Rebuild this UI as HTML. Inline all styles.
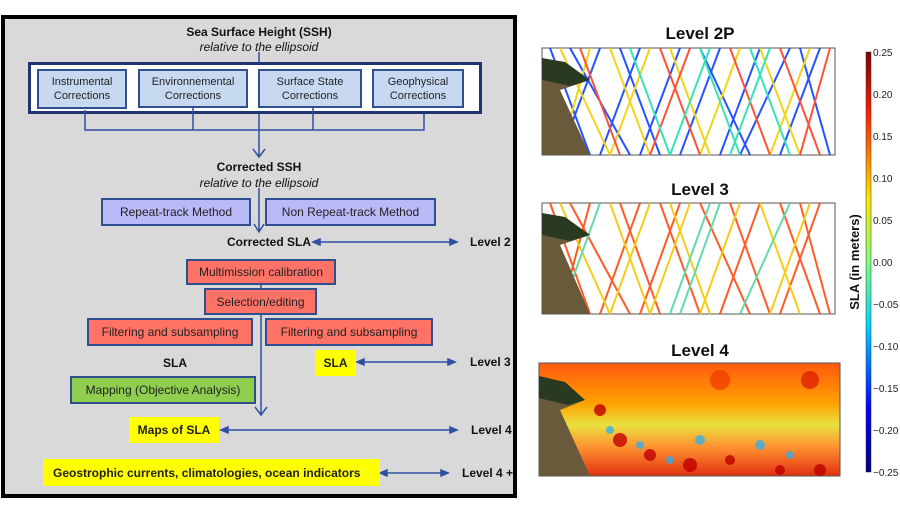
<!DOCTYPE html>
<html><head><meta charset="utf-8"><style>
body{margin:0;width:900px;height:524px;background:#fff;font-family:"Liberation Sans",sans-serif;position:relative;overflow:hidden}
.a{position:absolute;box-sizing:border-box}
.t{position:absolute;font-size:11px;color:#111;white-space:nowrap}
.b{font-weight:bold}
.bx{position:absolute;box-sizing:border-box;display:flex;align-items:center;justify-content:center;text-align:center;font-size:11px;color:#222;line-height:14px}
.blue{background:#c6d9f1;border:2px solid #2f4f8f}
.pur{background:#b9b9f7;border:2px solid #2f4f8f}
.red{background:#ff7366;border:2px solid #2f4f8f}
.grn{background:#8fce4f;border:2px solid #2f4f8f}
.yel{background:#ffff00;font-weight:bold}
</style></head><body>
<div class="a" style="left:1px;top:15px;width:516px;height:483px;background:#d9d9d9;border:4px solid #000"></div>
<div class="t b" style="left:0;width:518px;text-align:center;top:25px;font-size:12px">Sea Surface Height (SSH)</div>
<div class="t" style="left:0;width:518px;text-align:center;top:40px;font-style:italic;font-size:12px">relative to the ellipsoid</div>
<div class="a" style="left:28px;top:62px;width:454px;height:52px;background:#fff;border:3px solid #1f3470"></div>
<div class="bx blue" style="left:37px;top:69px;width:90px;height:40px">Instrumental<br>Corrections</div>
<div class="bx blue" style="left:138px;top:69px;width:110px;height:39px">Environnemental<br>Corrections</div>
<div class="bx blue" style="left:258px;top:69px;width:104px;height:39px">Surface State<br>Corrections</div>
<div class="bx blue" style="left:372px;top:69px;width:92px;height:39px">Geophysical<br>Corrections</div>
<svg class="a" style="left:0;top:0" width="520" height="500">
<g stroke="#2f4f9f" stroke-width="1.5" fill="none">
<path d="M259 52V63M85 110V130H424V114M193 108V130M313 108V130M259 114V157M253 149L259 157L265 149"/>
<path d="M259 188V232M254 224L259 232L264 224"/>
<path d="M261 284V289M261 314V415M255 407L261 415L267 407"/>
</g>
<g stroke="#2f4f9f" stroke-width="1.5" fill="#2f4f9f">
<line x1="318" y1="242" x2="452" y2="242"/><path d="M313 242L320 239V245Z M457 242L450 239V245Z"/>
<line x1="362" y1="362" x2="450" y2="362"/><path d="M357 362L364 359V365Z M455 362L448 359V365Z"/>
<line x1="226" y1="430" x2="452" y2="430"/><path d="M221 430L228 427V433Z M457 430L450 427V433Z"/>
<line x1="385" y1="473" x2="443" y2="473"/><path d="M380 473L387 470V476Z M448 473L441 470V476Z"/>
</g></svg>
<div class="t b" style="left:0;width:518px;text-align:center;top:160px;font-size:12px">Corrected SSH</div>
<div class="t" style="left:0;width:518px;text-align:center;top:176px;font-style:italic;font-size:12px">relative to the ellipsoid</div>
<div class="bx pur" style="left:101px;top:198px;width:150px;height:28px;font-size:12px">Repeat-track Method</div>
<div class="bx pur" style="left:265px;top:198px;width:171px;height:28px;font-size:12px">Non Repeat-track Method</div>
<div class="t b" style="left:227px;top:235px;font-size:12px">Corrected SLA</div>
<div class="t b" style="left:470px;top:235px;font-size:12px">Level 2</div>
<div class="bx red" style="left:186px;top:259px;width:150px;height:26px;font-size:12px">Multimission calibration</div>
<div class="bx red" style="left:204px;top:288px;width:113px;height:27px;font-size:12px">Selection/editing</div>
<div class="bx red" style="left:87px;top:318px;width:166px;height:28px;font-size:12px">Filtering and subsampling</div>
<div class="bx red" style="left:265px;top:318px;width:168px;height:28px;font-size:12px">Filtering and subsampling</div>
<div class="t b" style="left:163px;top:356px;font-size:12px">SLA</div>
<div class="bx yel" style="left:315px;top:350px;width:41px;height:26px;font-size:12px">SLA</div>
<div class="t b" style="left:470px;top:355px;font-size:12px">Level 3</div>
<div class="bx grn" style="left:70px;top:376px;width:186px;height:28px;font-size:12px">Mapping (Objective Analysis)</div>
<div class="bx yel" style="left:129px;top:417px;width:90px;height:26px;font-size:12px">Maps of SLA</div>
<div class="t b" style="left:471px;top:423px;font-size:12px">Level 4</div>
<div class="bx yel" style="left:43px;top:459px;width:337px;height:27px;font-size:12px;justify-content:flex-start;padding-left:10px">Geostrophic currents, climatologies, ocean indicators</div>
<div class="t b" style="left:462px;top:466px;font-size:12px">Level 4 +</div>

<div class="t b" style="left:640px;width:120px;text-align:center;top:24px;font-size:17px">Level 2P</div>
<div class="t b" style="left:640px;width:120px;text-align:center;top:180px;font-size:17px">Level 3</div>
<div class="t b" style="left:640px;width:120px;text-align:center;top:341px;font-size:17px">Level 4</div>
<svg class="a" style="left:0;top:0" width="900" height="524">
<defs>
<linearGradient id="cb" x1="0" y1="1" x2="0" y2="0">
<stop offset="0" stop-color="#00007f"/><stop offset=".15" stop-color="#0000ff"/><stop offset=".35" stop-color="#00d4ff"/><stop offset=".5" stop-color="#7dff7a"/><stop offset=".65" stop-color="#ffe600"/><stop offset=".85" stop-color="#ff2000"/><stop offset="1" stop-color="#7f0000"/></linearGradient>
<linearGradient id="l4" x1="0" y1="0" x2="0" y2="1"><stop offset="0" stop-color="#ff5a10"/><stop offset=".35" stop-color="#ffa000"/><stop offset=".55" stop-color="#e8e040"/><stop offset=".75" stop-color="#ff9030"/><stop offset="1" stop-color="#e03010"/></linearGradient>
</defs>
<rect x="542" y="48" width="293" height="107" fill="#fff" stroke="#555"/>
<g stroke-width="2" opacity=".9">
<path d="M550 48L590 155M570 48L630 155M600 48L560 155M620 48L660 155M640 48L600 155M680 48L640 155M700 48L750 155M720 48L680 155M760 48L720 155M790 48L740 155M800 48L830 155M820 48L780 155" stroke="#1040ff"/>
<path d="M560 48L610 155M610 48L650 155M650 48L610 155M670 48L710 155M740 48L700 155M760 48L800 155M810 48L770 155M590 48L560 155" stroke="#f0d000"/>
<path d="M580 48L620 155M660 48L700 155M690 48L650 155M730 48L770 155M780 48L820 155M830 48L800 155" stroke="#ff4020"/>
<path d="M630 48L670 155M710 48L670 155M750 48L790 155M770 48L730 155M700 48L740 155" stroke="#20e0b0"/>
</g>
<path d="M542 60L560 62L590 80L560 90L590 155L542 155Z" fill="#6a5a3c"/>
<path d="M542 58L565 62L590 80L570 86L542 80Z" fill="#2a3a20"/>
<rect x="542" y="203" width="293" height="111" fill="#fff" stroke="#555"/>
<g stroke-width="2" opacity=".9">
<path d="M550 203L590 314M570 203L630 314M620 203L660 314M640 203L600 314M680 203L640 314M700 203L750 314M760 203L720 314M800 203L830 314M820 203L780 314M590 203L560 314M660 203L700 314M730 203L770 314M780 203L820 314" stroke="#ff4a10"/>
<path d="M560 203L610 314M610 203L650 314M650 203L610 314M670 203L710 314M740 203L700 314M760 203L800 314M810 203L770 314M690 203L650 314" stroke="#f5c800"/>
<path d="M600 203L560 314M720 203L680 314M790 203L740 314M710 203L670 314" stroke="#50d8a0"/>
</g>
<path d="M542 215L560 217L590 235L560 245L590 314L542 314Z" fill="#6a5a3c"/>
<path d="M542 213L565 217L590 235L570 241L542 235Z" fill="#2a3a20"/>
<rect x="539" y="363" width="301" height="113" fill="url(#l4)" stroke="#555"/>
<g fill="#c00000" opacity=".8"><circle cx="600" cy="410" r="6"/><circle cx="620" cy="440" r="7"/><circle cx="650" cy="455" r="6"/><circle cx="690" cy="465" r="7"/><circle cx="730" cy="460" r="5"/><circle cx="780" cy="470" r="5"/><circle cx="820" cy="470" r="6"/><circle cx="810" cy="380" r="9" fill="#e02000"/><circle cx="720" cy="380" r="10" fill="#f04000"/></g>
<g fill="#20b0ff" opacity=".7"><circle cx="610" cy="430" r="4"/><circle cx="640" cy="445" r="4"/><circle cx="700" cy="440" r="5"/><circle cx="760" cy="445" r="5"/><circle cx="790" cy="455" r="4"/><circle cx="670" cy="460" r="4"/></g>
<path d="M539 380L560 382L585 400L560 410L590 476L539 476Z" fill="#6a5a3c"/>
<path d="M539 376L565 382L585 400L568 405L539 398Z" fill="#2a3a20"/>
<rect x="866" y="52" width="5" height="420" fill="url(#cb)" stroke="#333" stroke-width=".5"/>
<g font-size="10" fill="#222" font-family="Liberation Sans">
<text x="873" y="56">0.25</text><text x="873" y="98">0.20</text><text x="873" y="140">0.15</text><text x="873" y="182">0.10</text><text x="873" y="224">0.05</text><text x="873" y="266">0.00</text><text x="873" y="308">−0.05</text><text x="873" y="350">−0.10</text><text x="873" y="392">−0.15</text><text x="873" y="434">−0.20</text><text x="873" y="476">−0.25</text>
</g>
<text transform="translate(859 262) rotate(-90)" text-anchor="middle" font-size="13" font-weight="bold" font-family="Liberation Sans" fill="#111">SLA (in meters)</text>
</svg>
</body></html>
